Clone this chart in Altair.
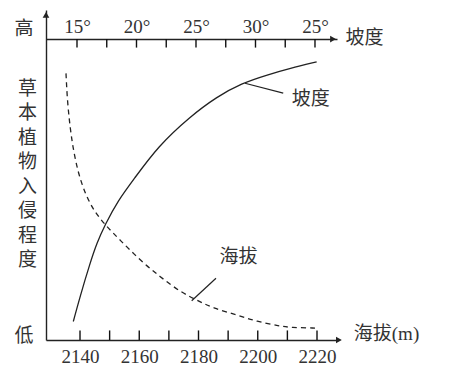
import altair as alt
import pandas as pd

# ---- data ----
elev = [2135.27, 2135.71, 2136.62, 2137.74, 2139.43, 2141.69, 2144.49, 2148.44, 2153.50,
        2160.25, 2167.00, 2173.76, 2180.51, 2184.89, 2192.89, 2199.65, 2207.51, 2210.89, 2219.90]
elev_v = [80.8, 72.7, 64.6, 57.6, 50.5, 44.5, 39.4, 34.9, 30.3,
          24.2, 19.2, 14.6, 11.6, 9.7, 7.6, 5.6, 4.2, 3.8, 3.6]
slope = [14.69, 15.25, 16.09, 16.66, 17.35, 18.47, 19.73, 21.83, 24.50,
         26.74, 28.84, 30.94, 32.90, 35.14]
slope_v = [5.6, 13.1, 23.2, 29.3, 34.9, 42.4, 48.5, 58.8, 67.7,
           73.7, 77.8, 80.3, 82.3, 84.3]

elev_ticks = [2140.0, 2150.0, 2160.0, 2170.0, 2180.0, 2190.0, 2200.0, 2210.0, 2220.0]
elev_label_vals = [2140, 2160, 2180, 2200, 2220]
slope_ticks = [15.0, 17.5, 20.0, 22.5, 25.0, 27.5, 30.0, 32.5, 35.0]
slope_label_vals = [15, 20, 25, 30, 35]
slope_label_text = ["15°", "20°", "25°", "30°", "25°"]
y_label_vals = [94.5, 1.5]
y_label_text = ["高", "低"]
y_title = "草本植物入侵程度"

lab_e = [2193.5, 2217.9]
lab_v = [25.2, 73.0]
lab_t = ["海拔", "坡度"]
lead_e = [2177.7, 2195.7]
lead_e2 = [2185.9, 2208.6]
lead_v = [11.9, 77.8]
lead_v2 = [18.7, 74.8]
arr_e = [2128.52, 2227.4, 2225.4]
arr_v = [98.5, 0.0, 91.2]
arr_shape = ["triangle-up", "triangle-right", "triangle-right"]

# ---- chart ----
W, H = 291, 330
E_DOM = [2128.52, 2226.75]
S_DOM = [12.395, 36.85]
TOP_V = 91.21
BOT_TICK = 2.9
TOP_TICK = 2.6
FONT = "'Liberation Serif', 'Noto Sans CJK SC'"
LINE = "#222222"
TXT = "#333333"

yscale = alt.Scale(domain=[0, 100], nice=False, zero=False)
escale = alt.Scale(domain=E_DOM, nice=False, zero=False)
sscale = alt.Scale(domain=S_DOM, nice=False, zero=False)


def expr(vals, texts):
    return " : ".join(f"datum.value == {v} ? '{t}'" for v, t in zip(vals, texts)) + " : ''"


yaxis = alt.Axis(orient="left", values=y_label_vals, labelExpr=expr(y_label_vals, y_label_text),
                 ticks=False, domain=True, domainColor=LINE, domainWidth=1.4, grid=False,
                 labelFont=FONT, labelFontSize=19, labelColor=TXT, labelPadding=13,
                 labelFlush=False, labelOverlap=False,
                 title=list(y_title), titleAngle=0, titleFont=FONT, titleFontSize=19,
                 titleFontWeight="normal", titleColor=TXT, titleX=-19, titleY=69,
                 titleAlign="center", titleBaseline="top", titleLineHeight=24.5)

df_e = pd.DataFrame({"e": elev, "v": elev_v})
df_s = pd.DataFrame({"s": slope, "v": slope_v})

dashed = alt.Chart(df_e).mark_line(strokeDash=[5, 4], color=LINE, strokeWidth=1.3,
                                   interpolate="basis").encode(
    x=alt.X("e:Q", scale=escale, axis=alt.Axis(
        orient="bottom", values=elev_label_vals, ticks=False, domain=True,
        domainColor=LINE, domainWidth=1.4, grid=False, labelFont=FONT, labelFontSize=19,
        labelColor=TXT, labelPadding=22, labelBaseline="alphabetic", labelFlush=False,
        labelOverlap=False, format="d",
        title="海拔(m)", titleFont=FONT, titleFontSize=19, titleFontWeight="normal",
        titleColor=TXT, titleX=340, titleY=-7, titleAlign="center",
        titleBaseline="middle", titleAngle=0)),
    y=alt.Y("v:Q", scale=yscale, axis=yaxis))

solid = alt.Chart(df_s).mark_line(color=LINE, strokeWidth=1.3, interpolate="basis").encode(
    x=alt.X("s:Q", scale=sscale, axis=alt.Axis(
        orient="top", offset=-29, values=slope_label_vals,
        labelExpr=expr(slope_label_vals, slope_label_text), ticks=False, domain=True,
        domainColor=LINE, domainWidth=1.4, grid=False, labelFont=FONT, labelFontSize=19,
        labelColor=TXT, labelPadding=7, labelBaseline="alphabetic", labelFlush=False,
        labelOverlap=False,
        title="坡度", titleFont=FONT, titleFontSize=19, titleFontWeight="normal",
        titleColor=TXT, titleX=318, titleY=-2, titleAlign="center",
        titleBaseline="middle", titleAngle=0)),
    y=alt.Y("v:Q", scale=yscale, axis=yaxis))

leaders = alt.Chart(pd.DataFrame({"e": lead_e, "e2": lead_e2, "v": lead_v, "v2": lead_v2})).mark_rule(
    color=LINE, strokeWidth=1.2).encode(
    x=alt.X("e:Q", scale=escale, axis=None), x2="e2:Q",
    y=alt.Y("v:Q", scale=yscale, axis=yaxis), y2="v2:Q")

labels = alt.Chart(pd.DataFrame({"e": lab_e, "v": lab_v, "t": lab_t})).mark_text(
    font=FONT, fontSize=19, color=TXT, align="center", baseline="middle").encode(
    x=alt.X("e:Q", scale=escale, axis=None),
    y=alt.Y("v:Q", scale=yscale, axis=yaxis), text="t:N")

arrows = alt.Chart(pd.DataFrame({"e": arr_e, "v": arr_v, "shape": arr_shape})).mark_point(
    filled=True, size=45, color=LINE, opacity=1).encode(
    x=alt.X("e:Q", scale=escale, axis=None),
    y=alt.Y("v:Q", scale=yscale, axis=yaxis),
    shape=alt.Shape("shape:N", scale=None))

# inward tick marks as tiny two-point line segments (one segment per tick)
df_bt = pd.DataFrame({
    "tx": [t for t in elev_ticks for _ in (0, 1)],
    "tv": [v for _ in elev_ticks for v in (0.0, BOT_TICK)],
    "tid": [i for i in range(len(elev_ticks)) for _ in (0, 1)],
})
elev_tick_layer = alt.Chart(df_bt).mark_line(color="#111111", strokeWidth=1.4).encode(
    x=alt.X("tx:Q", scale=escale, axis=None),
    y=alt.Y("tv:Q", scale=yscale, axis=yaxis),
    detail="tid:N")

df_tt = pd.DataFrame({
    "tx": [t for t in slope_ticks for _ in (0, 1)],
    "tv": [v for _ in slope_ticks for v in (TOP_V, TOP_V - TOP_TICK)],
    "tid": [i for i in range(len(slope_ticks)) for _ in (0, 1)],
})
slope_tick_layer = alt.Chart(df_tt).mark_line(color="#111111", strokeWidth=1.4).encode(
    x=alt.X("tx:Q", scale=sscale, axis=None),
    y=alt.Y("tv:Q", scale=yscale, axis=yaxis),
    detail="tid:N")

chart = alt.layer(dashed, solid, leaders, labels, arrows, elev_tick_layer, slope_tick_layer).resolve_scale(
    x="independent").properties(
    width=W, height=H, autosize=alt.AutoSizeParams(type="none"),
    padding={"left": 38, "top": 2, "right": 100, "bottom": 25},
    background="white").configure_view(stroke=None)

chart.save("out.html", embed_options={"renderer": "svg", "actions": False})
